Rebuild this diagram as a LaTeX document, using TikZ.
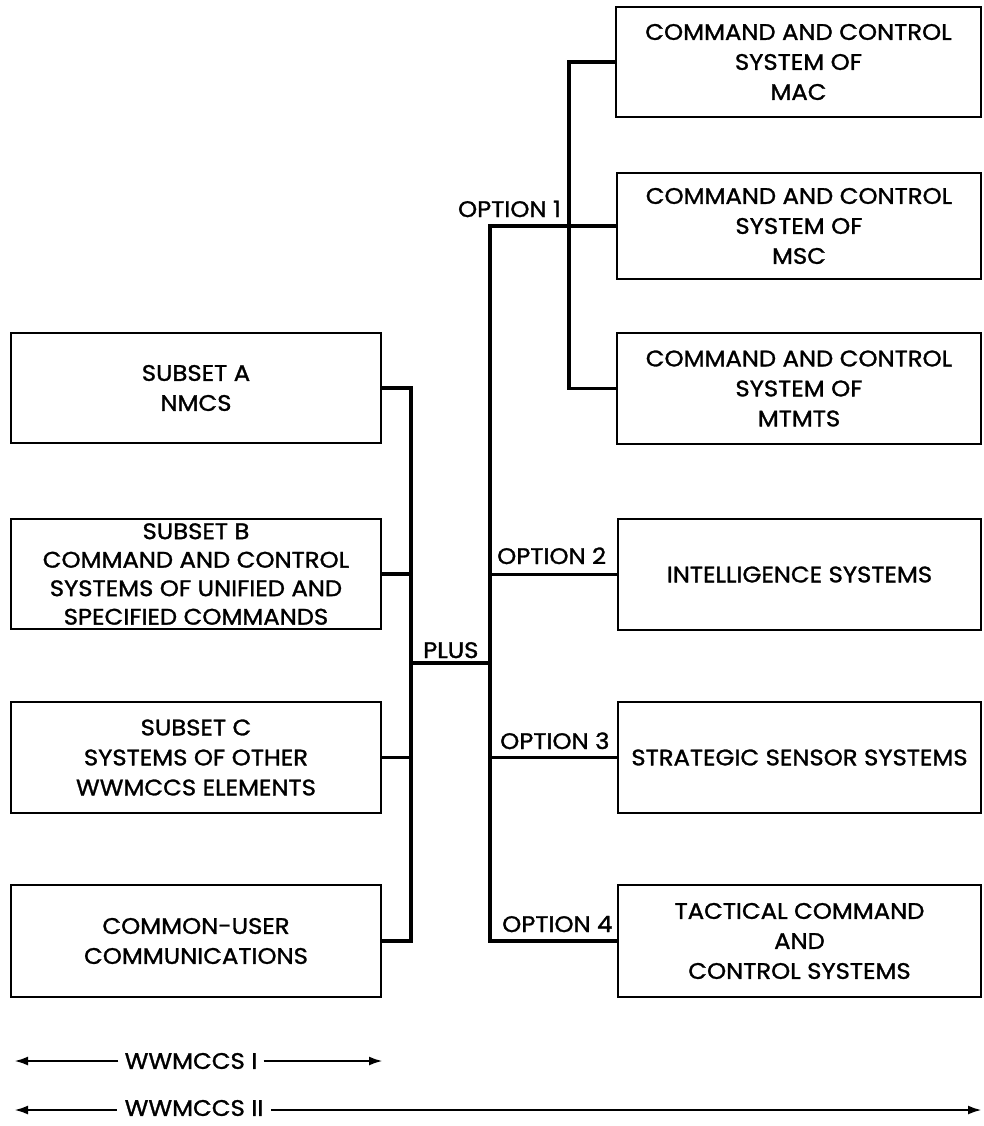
\documentclass[tikz,border=0pt]{standalone}
\usepackage{fontspec}
\setmainfont{Poppins}[FakeBold=1.3, FakeStretch=1.08]
\usetikzlibrary{arrows.meta}
\begin{document}
\begin{tikzpicture}[x=1pt,y=-1pt,
  txt/.style={font=\fontsize{22.5}{30}\selectfont},
  box/.style={draw, line width=2.8pt, inner sep=0pt, align=center, txt},
  lbl/.style={inner sep=0pt, txt},
  conn/.style={line width=3.8pt, line join=miter},
  arr/.style={line width=2.6pt, -{Latex[length=14pt,width=9pt]}}]
\useasboundingbox (0,0) rectangle (983,1126);
\fill[white] (0,0) rectangle (983,1126);
% left column
\node[box, minimum width=370pt, minimum height=110pt] (A) at (196,388) {SUBSET A\\NMCS};
\node[box, minimum width=370pt, minimum height=110pt, font=\fontsize{22.5}{28.5}\selectfont] (B) at (196,574) {SUBSET B\\COMMAND AND CONTROL\\SYSTEMS OF UNIFIED AND\\SPECIFIED COMMANDS};
\node[box, minimum width=370pt, minimum height=111pt] (C) at (196,757.5) {SUBSET C\\SYSTEMS OF OTHER\\WWMCCS ELEMENTS};
\node[box, minimum width=370pt, minimum height=112pt] (CU) at (196,941) {COMMON-USER\\COMMUNICATIONS};
% right column
\node[box, minimum width=365pt, minimum height=110pt] (MAC) at (798.5,62) {COMMAND AND CONTROL\\SYSTEM OF\\MAC};
\node[box, minimum width=364pt, minimum height=106pt] (MSC) at (799,226) {COMMAND AND CONTROL\\SYSTEM OF\\MSC};
\node[box, minimum width=364pt, minimum height=111pt] (MTMTS) at (799,388.5) {COMMAND AND CONTROL\\SYSTEM OF\\MTMTS};
\node[box, minimum width=363pt, minimum height=111pt] (INT) at (799.5,574.5) {INTELLIGENCE SYSTEMS};
\node[box, minimum width=363pt, minimum height=111pt] (SSS) at (799.5,757.5) {STRATEGIC SENSOR SYSTEMS};
\node[box, minimum width=363pt, minimum height=112pt] (TAC) at (799.5,941) {TACTICAL COMMAND\\AND\\CONTROL SYSTEMS};
% junction coordinates
\coordinate (L) at (411,663);
\coordinate (R) at (490,663);
\coordinate (S) at (569,0);
% left bracket
\draw[conn] (A.east) -- (A.east -| L) -- (CU.east -| L) -- (CU.east);
\draw[conn] (B.east) -- (B.east -| L);
\draw[conn] (C.east) -- (C.east -| L);
\draw[conn] (L) -- (R);
% options trunk
\draw[conn] (MSC.west) -- (MSC.west -| R) -- (TAC.west -| R) -- (TAC.west);
\draw[conn] (INT.west -| R) -- (INT.west);
\draw[conn] (SSS.west -| R) -- (SSS.west);
% option 1 branch
\draw[conn] (MAC.west) -- (MAC.west -| S) -- (MTMTS.west -| S) -- (MTMTS.west);
% labels
\node[lbl, anchor=base east] (o1) at (561,217) {OPTION 1};
\node[lbl, anchor=base west] (o2) at (497,564) {OPTION 2};
\node[lbl, anchor=base west] (o3) at (500,749) {OPTION 3};
\node[lbl, anchor=base west] (o4) at (502,932) {OPTION 4};
\node[lbl, anchor=base west] (plus) at (423,658) {PLUS};
% extent arrows
\node[lbl, inner xsep=6pt] (w1) at (191,1061) {WWMCCS I};
\coordinate (w1l) at (14,1061);
\coordinate (w1r) at (383,1061);
\draw[arr] (w1) -- (w1l);
\draw[arr] (w1) -- (w1r);
\node[lbl, inner xsep=8pt] (w2) at (194,1108) {WWMCCS II};
\coordinate (w2l) at (14,1110);
\coordinate (w2r) at (982,1110);
\draw[arr] (w2.west |- w2l) -- (w2l);
\draw[arr] (w2.east |- w2r) -- (w2r);
\end{tikzpicture}
\end{document}
